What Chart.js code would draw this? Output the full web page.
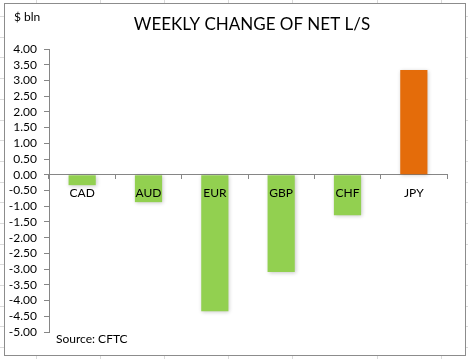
<!DOCTYPE html>
<html>
<head>
<meta charset="utf-8">
<script src="https://cdn.jsdelivr.net/npm/chart.js@4/dist/chart.umd.min.js"></script>
<style>
  html, body { margin: 0; padding: 0; background: #fff; }
  #wrap { position: relative; width: 468px; height: 359px; }
</style>
</head>
<body>
<div id="wrap"><canvas id="chart" width="468" height="359"></canvas></div>
<script>
/* ── Data ─────────────────────────────────────────── */
const currencies = ['CAD', 'AUD', 'EUR', 'GBP', 'CHF', 'JPY'];
const netChange  = [-0.33, -0.87, -4.34, -3.09, -1.29, 3.33];
const barColors  = ['#92D050', '#92D050', '#92D050', '#92D050', '#92D050', '#E46C0A'];
const yMin = -5, yMax = 4, yStep = 0.5;

const TITLE  = 'WEEKLY CHANGE OF NET L/S';
const UNIT   = '$ bln';
const SOURCE = 'Source: CFTC';

const AXIS = '#868686';
const FONT = 'Lato, "Open Sans", sans-serif';

/* ── Sheet background + chart frame + texts ───────── */
const frame = {
  id: 'frame',
  beforeDraw(chart) {
    const c = chart.ctx;
    c.save();
    // spreadsheet gridlines behind the chart object
    c.strokeStyle = '#dadada';
    c.lineWidth = 1;
    [36, 100, 164, 228, 292, 377, 441].forEach(x => {
      c.beginPath(); c.moveTo(x + 0.5, 0); c.lineTo(x + 0.5, 359); c.stroke();
    });
    for (let y = 16; y < 359; y += 20.7) {
      c.beginPath(); c.moveTo(0, Math.round(y) + 0.5); c.lineTo(468, Math.round(y) + 0.5); c.stroke();
    }
    // chart box
    c.fillStyle = '#fff';
    c.fillRect(4, 3, 461, 352);
    c.strokeStyle = '#8c8c8c';
    c.strokeRect(4.5, 3.5, 461, 352);

    c.fillStyle = '#000';
    c.textBaseline = 'middle';
    c.font = '17px ' + FONT;
    c.textAlign = 'center';
    c.fillText(TITLE, 252, 25);
    c.font = '12px ' + FONT;
    c.textAlign = 'left';
    c.fillText(UNIT, 14, 17);
    c.fillText(SOURCE, 56, 339);
    c.restore();
  },
  beforeDatasetsDraw(chart) {
    const c = chart.ctx;
    c.save();
    c.shadowColor = 'rgba(0,0,0,0.22)';
    c.shadowBlur = 4;
    c.shadowOffsetX = 1;
    c.shadowOffsetY = 1;
  },
  afterDatasetsDraw(chart) {
    chart.ctx.restore();
  }
};

/* ── Chart ────────────────────────────────────────── */
new Chart(document.getElementById('chart'), {
  type: 'bar',
  data: {
    labels: currencies,
    datasets: [{
      data: netChange,
      backgroundColor: barColors,
      borderWidth: 0,
      categoryPercentage: 1,
      barPercentage: 0.41
    }]
  },
  options: {
    responsive: false,
    animation: false,
    layout: { padding: { left: 0, right: 21, top: 49, bottom: 27 } },
    plugins: {
      legend: { display: false },
      title: { display: false },
      tooltip: { enabled: false }
    },
    scales: {
      x: {
        position: { y: 0 },
        grid: { display: true, drawOnChartArea: false, drawTicks: true, tickLength: 4, color: AXIS, offset: true },
        border: { display: true, color: AXIS, width: 1 },
        ticks: { z: 1, color: '#000', font: { family: FONT, size: 12 }, padding: 7, maxRotation: 0 }
      },
      y: {
        min: yMin, max: yMax,
        afterFit(scale) { scale.width = 49; },
        grid: { display: true, drawOnChartArea: false, drawTicks: true, tickLength: 5, color: AXIS },
        border: { display: true, color: AXIS, width: 1 },
        ticks: {
          stepSize: yStep,
          autoSkip: false,
          color: '#000',
          font: { family: FONT, size: 12 },
          padding: 7,
          callback: v => v.toFixed(2)
        }
      }
    }
  },
  plugins: [frame]
});
</script>
</body>
</html>
